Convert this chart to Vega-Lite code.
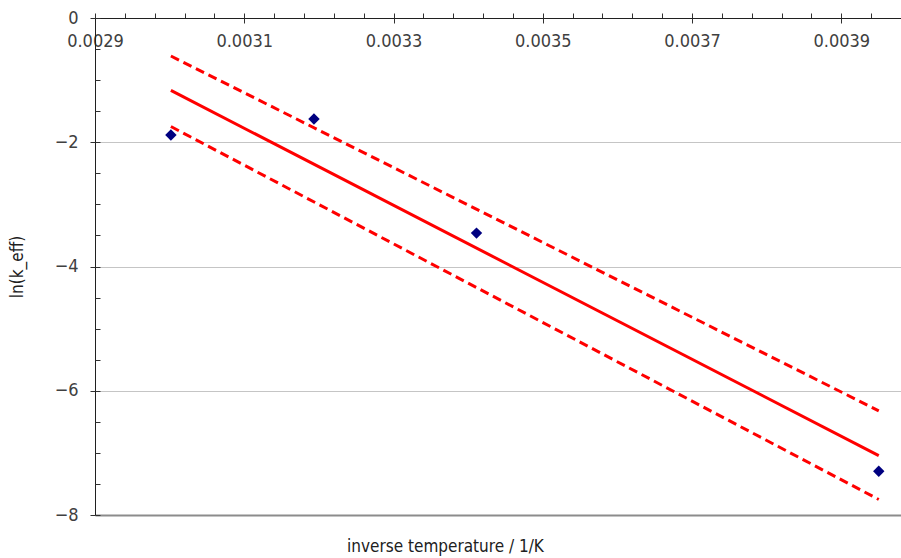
{
  "$schema": "https://vega.github.io/schema/vega-lite/v6.json",
  "width": 806,
  "height": 497,
  "autosize": {"type": "none"},
  "padding": {"left": 95, "top": 18, "right": 0, "bottom": 43},
  "background": "white",
  "config": {
    "view": {"stroke": null},
    "axis": {
      "labelFont": "DejaVu Sans Condensed, Liberation Sans Narrow, Roboto Condensed, sans-serif",
      "titleFont": "DejaVu Sans Condensed, Liberation Sans Narrow, Roboto Condensed, sans-serif",
      "labelFontSize": 18,
      "titleFontSize": 17,
      "titleFontWeight": "normal",
      "labelColor": "#404040",
      "titleColor": "#202020",
      "tickColor": "#303030",
      "domainColor": "#202020",
      "tickWidth": 1,
      "domainWidth": 1,
      "labelFlush": false,
      "labelOverlap": false
    }
  },
  "datasets": {
    "points": [
      {"x": 0.0030017, "y": -1.884},
      {"x": 0.0031934, "y": -1.626},
      {"x": 0.0034112, "y": -3.462},
      {"x": 0.0039502, "y": -7.295}
    ],
    "fit": [
      {"x": 0.0030017, "y": -1.166},
      {"x": 0.0039502, "y": -7.044}
    ],
    "bounds": [
      {"series": "upper", "x": 0.0030017, "y": -0.612},
      {"series": "upper", "x": 0.0039502, "y": -6.323},
      {"series": "lower", "x": 0.0030017, "y": -1.747},
      {"series": "lower", "x": 0.0039502, "y": -7.75}
    ]
  },
  "layer": [
    {
      "data": {"name": "bounds"},
      "mark": {"type": "line", "color": "#FF0000", "strokeWidth": 3, "strokeDash": [9, 5]},
      "encoding": {
        "x": {
          "field": "x", "type": "quantitative",
          "scale": {"domain": [0.0029, 0.00398], "nice": false, "zero": false},
          "axis": {
            "orient": "top",
            "values": [0.0029, 0.00294, 0.00298, 0.00302, 0.00306, 0.0031, 0.00314, 0.00318, 0.00322, 0.00326, 0.0033, 0.00334, 0.00338, 0.00342, 0.00346, 0.0035, 0.00354, 0.00358, 0.00362, 0.00366, 0.0037, 0.00374, 0.00378, 0.00382, 0.00386, 0.0039, 0.00394, 0.00398],
            "tickSize": 5,
            "labels": false,
            "domain": true,
            "grid": false,
            "title": null
          }
        },
        "y": {
          "field": "y", "type": "quantitative",
          "scale": {"domain": [-8, 0], "nice": false, "zero": false},
          "axis": {
            "orient": "left",
            "values": [0, -2, -4, -6, -8],
            "tickSize": 5,
            "labelPadding": 12,
            "labelAlign": "right",
            "labelBaseline": "middle",
            "domain": true,
            "grid": true,
            "gridColor": {"condition": {"test": "datum.value === -8", "value": "#8c8c8c"}, "value": "#8a8a8a"},
            "gridWidth": {"condition": {"test": "datum.value === -8", "value": 2}, "value": 1},
            "gridDash": {"condition": {"test": "datum.value === -8", "value": []}, "value": [1, 1]},
            "gridOpacity": {"condition": {"test": "datum.value === 0", "value": 0}, "value": 1},
            "title": "ln(k_eff)",
            "titlePadding": 28
          }
        },
        "detail": {"field": "series", "type": "nominal"}
      }
    },
    {
      "data": {"name": "fit"},
      "mark": {"type": "line", "color": "#FF0000", "strokeWidth": 3},
      "encoding": {
        "x": {
          "field": "x", "type": "quantitative",
          "axis": {
            "orient": "bottom",
            "offset": -497,
            "values": [0.0029, 0.0031, 0.0033, 0.0035, 0.0037, 0.0039],
            "format": ".4f",
            "tickSize": 5,
            "labelPadding": 9,
            "labelAlign": "center",
            "domain": false,
            "grid": false,
            "title": "inverse temperature / 1/K",
            "titleX": 350,
            "titleAlign": "center",
            "titleY": 533,
            "titleBaseline": "alphabetic"
          }
        },
        "y": {
          "field": "y", "type": "quantitative",
          "axis": {
            "orient": "right",
            "offset": -806,
            "values": [0, -0.5, -1, -1.5, -2, -2.5, -3, -3.5, -4, -4.5, -5, -5.5, -6, -6.5, -7, -7.5, -8],
            "tickSize": 5,
            "labels": false,
            "domain": false,
            "grid": false,
            "title": null
          }
        }
      }
    },
    {
      "data": {"name": "points"},
      "mark": {"type": "point", "shape": "diamond", "filled": true, "color": "#000080", "size": 130, "opacity": 1},
      "encoding": {
        "x": {"field": "x", "type": "quantitative", "axis": null},
        "y": {"field": "y", "type": "quantitative", "axis": null}
      }
    }
  ],
  "resolve": {"axis": {"x": "independent", "y": "independent"}}
}
